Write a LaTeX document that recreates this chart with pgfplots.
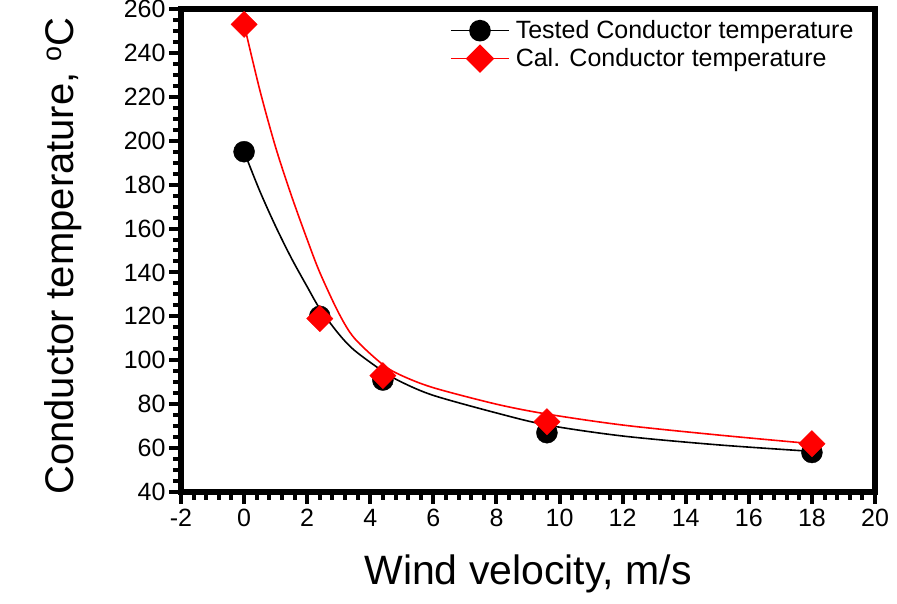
\documentclass[border=0pt]{standalone}
\usepackage{fontspec}
\setmainfont{Liberation Sans}
\usepackage{pgfplots}
\pgfplotsset{compat=1.18}
\definecolor{myred}{RGB}{255,0,0}
\begin{document}
\begin{tikzpicture}
\begin{axis}[
  at={(0pt,0pt)}, anchor=south west,
  scale only axis, width=694pt, height=483pt,
  xmin=-2, xmax=20, ymin=40, ymax=260,
  xtick={-2,0,...,20}, ytick={40,60,...,260},
  minor x tick num=4, minor y tick num=3,
  tick align=outside, xtick pos=bottom, ytick pos=left,
  axis line style={line width=5pt},
  major tick length=12pt, minor tick length=8pt,
  major tick style={black, line width=4pt},
  minor tick style={black, line width=4pt},
  tick label style={font=\fontsize{25}{25}\selectfont},
  xticklabel style={yshift=-2pt},
  yticklabel style={xshift=0pt},
  /pgf/number format/assume math mode=true,
  xlabel={Wind velocity, m/s},
  ylabel={Conductor temperature, \raisebox{0.55ex}{\fontsize{27}{27}\selectfont o}C},
  xlabel style={font=\fontsize{41}{41}\selectfont, at={(axis description cs:0.5,-0.1925)}, anchor=base},
  ylabel style={font=\fontsize{40}{40}\selectfont, at={(axis description cs:-0.1556,0.4886)}, anchor=base, rotate=0},
  legend style={at={(axis description cs:0.3876,0.980)}, anchor=north west,
    draw=none, fill=none, inner sep=0pt, row sep=3pt,
    font=\fontsize{25}{28}\selectfont, cells={anchor=west},
    /tikz/every odd column/.append style={column sep=4pt}},
  legend image code/.code={\draw[mark repeat=2,mark phase=2,#1] plot coordinates {(0pt,0pt)(29pt,0pt)(58pt,0pt)};},
  clip=false,
]
% fitted curves
\addplot[black, line width=1.6pt, smooth, forget plot] coordinates {
 (0,195)(0.5,177)(1,161)(1.5,146.5)(2,133.5)(2.4,123.5)(3,112)(3.5,104.5)(4.4,95)(5,90)(6,84)(8,76)(9.6,70.5)(12,65.5)(15,61.5)(18,58.5)};
\addplot[black, only marks, mark=*, mark size=10.5pt, forget plot] coordinates {
 (0,195)(2.4,120)(4.4,91)(9.6,67)(18,58)};
\addplot[myred, line width=1.6pt, smooth, forget plot] coordinates {
 (0,253)(0.5,223)(1,197)(1.5,175)(2,155)(2.4,140)(3,121.5)(3.5,110)(4.4,98)(5,93)(6,87.5)(8,80)(9.6,75.5)(12,70.5)(15,66)(18,62)};
\addplot[myred, only marks, mark=square*, mark options={rotate=45}, mark size=9.3pt, forget plot] coordinates {
 (0,253)(2.4,119)(4.4,93)(9.6,72)(18,62)};
\addlegendimage{black, line width=1.6pt, mark=*, mark size=10pt}
\addlegendentry{Tested Conductor temperature}
\addlegendimage{myred, line width=1.6pt, mark=square*, mark options={rotate=45}, mark size=9.3pt}
\addlegendentry{Cal. Conductor temperature}
\draw[black, line width=6pt, line join=miter] (rel axis cs:0,0) rectangle (rel axis cs:1,1);
\end{axis}
\pgfresetboundingbox
\useasboundingbox (-181pt,-112pt) rectangle (716pt,492pt);
\end{tikzpicture}
\end{document}
